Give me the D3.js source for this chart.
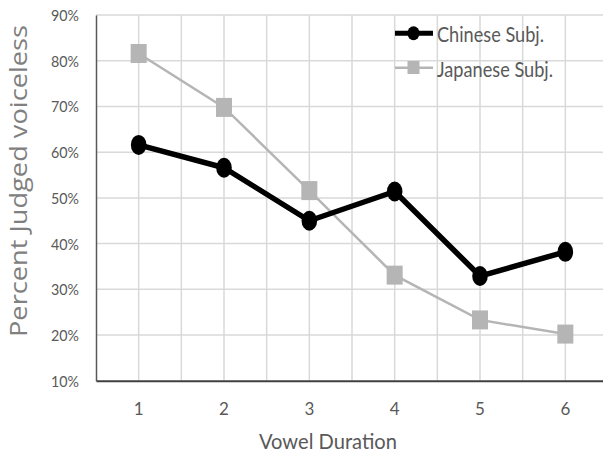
<!DOCTYPE html>
<html>
<head>
<meta charset="utf-8">
<script src="https://cdn.jsdelivr.net/npm/d3@7"></script>
<style>
  html, body { margin: 0; padding: 0; background: #fff; }
  svg { display: block; }
  text { font-family: Lato, "Open Sans", "Liberation Sans", sans-serif; }
</style>
</head>
<body>
<svg id="chart" width="603" height="454"></svg>
<script>
const categories = ["1", "2", "3", "4", "5", "6"];
const chineseValues = [0.616, 0.566, 0.450, 0.514, 0.329, 0.382];
const japaneseValues = [0.816, 0.698, 0.516, 0.331, 0.233, 0.202];
const yTicks = [0.1, 0.2, 0.3, 0.4, 0.5, 0.6, 0.7, 0.8, 0.9];
const seriesNames = ["Chinese Subj.", "Japanese Subj."];
const xTitle = "Vowel Duration";
const yTitle = "Percent Judged voiceless";

const svg = d3.select("#chart");
const plotLeft = 96, plotRight = 608, plotTop = 15.1, plotBottom = 380.7;

const x = d3.scaleBand().domain(categories).range([plotLeft, plotRight]).padding(0);
const y = d3.scaleLinear().domain([0.1, 0.9]).range([plotBottom, plotTop]);

const grid = svg.append("g");
grid.selectAll("line.h").data(yTicks.slice(1)).join("line")
  .attr("x1", plotLeft).attr("x2", plotRight)
  .attr("y1", d => y(d)).attr("y2", d => y(d))
  .attr("stroke", "#d9d9d9").attr("stroke-width", 1.5);
const vLines = [];
categories.forEach(c => {
  vLines.push(x(c) + x.bandwidth() / 2);
  vLines.push(x(c) + x.bandwidth());
});
grid.selectAll("line.v").data(vLines).join("line")
  .attr("x1", d => d).attr("x2", d => d)
  .attr("y1", plotTop).attr("y2", plotBottom)
  .attr("stroke", "#d9d9d9").attr("stroke-width", 1.5);

const yAxis = d3.axisLeft(y).tickValues(yTicks).tickFormat(d3.format(".0%")).tickSize(0).tickPadding(17);
const gy = svg.append("g").attr("transform", `translate(${plotLeft},0)`).call(yAxis);
gy.select(".domain").attr("stroke", "#595959").attr("stroke-width", 1.5);
gy.selectAll("text").attr("fill", "#595959").attr("font-size", 15).attr("dy", "0.36em")
  .attr("textLength", 28).attr("lengthAdjust", "spacingAndGlyphs");

const xAxis = d3.axisBottom(x).tickSize(0).tickPadding(22);
const gx = svg.append("g").attr("transform", `translate(0,${plotBottom})`).call(xAxis);
gx.select(".domain").attr("stroke", "#404040").attr("stroke-width", 2);
gx.selectAll("text").attr("fill", "#595959").attr("font-size", 17).attr("dy", "0.71em");

svg.append("text").attr("x", 328).attr("y", 449).attr("text-anchor", "middle")
  .attr("fill", "#595959").attr("font-size", 22)
  .attr("textLength", 138).attr("lengthAdjust", "spacingAndGlyphs")
  .text(xTitle);
svg.append("text").attr("transform", "translate(27,181) rotate(-90)")
  .attr("text-anchor", "middle").attr("fill", "#808080").attr("font-size", 23)
  .style("font-family", "'Open Sans', Lato, sans-serif")
  .attr("textLength", 312).attr("lengthAdjust", "spacingAndGlyphs")
  .text(yTitle);

const line = d3.line().x((d, i) => x(categories[i]) + x.bandwidth() / 2).y(d => y(d));

svg.append("path").datum(japaneseValues).attr("d", line)
  .attr("fill", "none").attr("stroke", "#b5b5b5").attr("stroke-width", 2.5);
svg.selectAll("rect.jp").data(japaneseValues).join("rect")
  .attr("x", (d, i) => x(categories[i]) + x.bandwidth() / 2 - 8)
  .attr("y", d => y(d) - 9.5)
  .attr("width", 16).attr("height", 19).attr("fill", "#b5b5b5");

svg.append("path").datum(chineseValues).attr("d", line)
  .attr("fill", "none").attr("stroke", "#000").attr("stroke-width", 5.5)
  .attr("stroke-linejoin", "round");
svg.selectAll("ellipse.cn").data(chineseValues).join("ellipse")
  .attr("cx", (d, i) => x(categories[i]) + x.bandwidth() / 2)
  .attr("cy", d => y(d))
  .attr("rx", 7.8).attr("ry", 10).attr("fill", "#000");

const leg = svg.append("g");
leg.append("line").attr("x1", 395).attr("x2", 433).attr("y1", 33.3).attr("y2", 33.3)
  .attr("stroke", "#000").attr("stroke-width", 5);
leg.append("ellipse").attr("cx", 413.5).attr("cy", 33.3).attr("rx", 6).attr("ry", 7).attr("fill", "#000");
leg.append("text").attr("x", 437).attr("y", 41.7).attr("fill", "#595959").attr("font-size", 21)
  .attr("textLength", 107).attr("lengthAdjust", "spacingAndGlyphs").text(seriesNames[0]);

leg.append("line").attr("x1", 395).attr("x2", 433).attr("y1", 67.7).attr("y2", 67.7)
  .attr("stroke", "#b5b5b5").attr("stroke-width", 2.5);
leg.append("rect").attr("x", 407.5).attr("y", 61).attr("width", 12).attr("height", 13).attr("fill", "#b5b5b5");
leg.append("text").attr("x", 437).attr("y", 76.5).attr("fill", "#595959").attr("font-size", 21)
  .attr("textLength", 116).attr("lengthAdjust", "spacingAndGlyphs").text(seriesNames[1]);
</script>
</body>
</html>
